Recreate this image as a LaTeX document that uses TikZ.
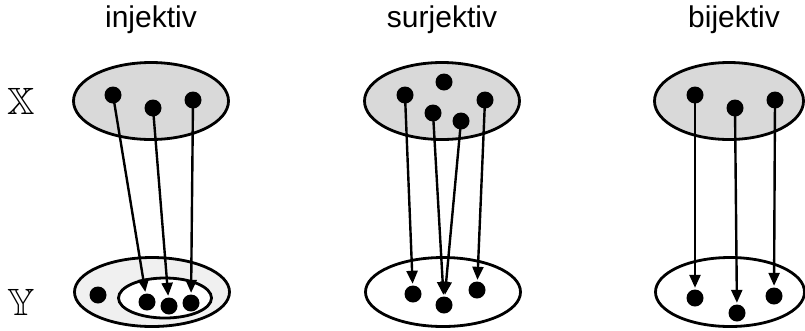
\documentclass[tikz,border=0pt]{standalone}
\usepackage{amssymb}
\usepackage{fontspec}
\setmainfont{Liberation Sans}
\usetikzlibrary{shapes.geometric,arrows.meta}
\definecolor{setgray}{HTML}{D9D9D9}
\definecolor{lightgray2}{HTML}{F0F0F0}
\tikzset{
  setell/.style={ellipse, draw=black, line width=2.8pt, inner sep=0pt},
  topset/.style={setell, fill=setgray, minimum width=155pt, minimum height=77pt},
  botset/.style={setell, fill=white, minimum width=155pt, minimum height=69pt},
  dot/.style={circle, fill=black, inner sep=0pt, minimum size=17pt},
  map/.style={line width=2.4pt, -{Triangle[length=13pt,width=11pt]}, shorten >=1.5pt},
  title/.style={font=\fontsize{30}{33}\selectfont, anchor=base},
  setlabel/.style={font=\fontsize{38}{42}\selectfont}
}
\begin{document}
\begin{tikzpicture}[x=1pt,y=-1pt]
\useasboundingbox (0,0) rectangle (805,330);
% titles
\node[title] (t1) at (151,27) {injektiv};
\node[title] (t2) at (442,27) {surjektiv};
\node[title] (t3) at (734,27) {bijektiv};
% set labels
\node[setlabel] (lx) at (21,101) {$\mathbb{X}$};
\node[setlabel] (ly) at (21,302) {$\mathbb{Y}$};
% injektiv
\node[topset] (X1) at (151,101) {};
\node[botset, fill=lightgray2] (Y1) at (152,292) {};
\node[setell, fill=white, minimum width=93pt, minimum height=40pt] (Y1i) at (165,298) {};
\node[dot] (a1) at (113,95) {};
\node[dot] (a2) at (153,108) {};
\node[dot] (a3) at (193,100) {};
\node[dot] (b0) at (98,295) {};
\node[dot] (b1) at (147,302) {};
\node[dot] (b2) at (169,306) {};
\node[dot] (b3) at (191,303) {};
\draw[map] (a1.center) -- (b1);
\draw[map] (a2.center) -- (b2);
\draw[map] (a3.center) -- (b3);
% surjektiv
\node[topset] (X2) at (442,101) {};
\node[botset] (Y2) at (443,292) {};
\node[dot] (c1) at (405,95) {};
\node[dot] (c2) at (444,82) {};
\node[dot] (c3) at (433,113) {};
\node[dot] (c4) at (461,121) {};
\node[dot] (c5) at (485,100) {};
\node[dot] (d1) at (413,294) {};
\node[dot] (d2) at (444,305) {};
\node[dot] (d3) at (477,290) {};
\draw[map] (c1.center) -- (d1);
\draw[map] (c3.center) -- (d2);
\draw[map] (c4.center) -- (d2);
\draw[map] (c5.center) -- (d3);
% bijektiv
\node[topset, minimum width=149pt] (X3) at (729,101) {};
\node[botset, minimum width=149pt] (Y3) at (730,292) {};
\node[dot] (e1) at (695,95) {};
\node[dot] (e2) at (735,108) {};
\node[dot] (e3) at (775,100) {};
\node[dot] (f1) at (695,298) {};
\node[dot] (f2) at (737,313) {};
\node[dot] (f3) at (774,296) {};
\draw[map] (e1.center) -- (f1);
\draw[map] (e2.center) -- (f2);
\draw[map] (e3.center) -- (f3);
\end{tikzpicture}
\end{document}
